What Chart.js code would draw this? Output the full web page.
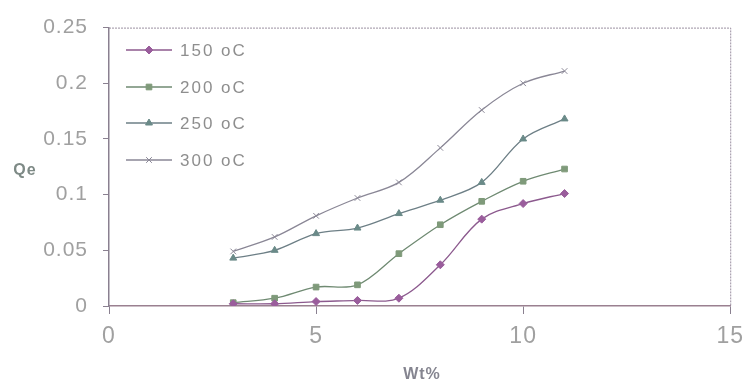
<!DOCTYPE html>
<html>
<head>
<meta charset="utf-8">
<script src="https://cdn.jsdelivr.net/npm/chart.js@4.4.0/dist/chart.umd.min.js"></script>
<style>
    html, body { margin: 0; padding: 0; background: #fff; }
    #wrap { position: relative; width: 752px; height: 387px; }
</style>
</head>
<body>
<div id="wrap"><canvas id="qeChart" width="752" height="387"></canvas></div>
<script>
// Qe vs Wt% at four temperatures
const wt = [3, 4, 5, 6, 7, 8, 9, 10, 11];
const seriesNames = ['150 oC', '200 oC', '250 oC', '300 oC'];
const qe150 = [0.002, 0.002, 0.004, 0.005, 0.007, 0.037, 0.078, 0.092, 0.101];
const qe200 = [0.003, 0.007, 0.017, 0.019, 0.047, 0.073, 0.094, 0.112, 0.123];
const qe250 = [0.043, 0.050, 0.065, 0.070, 0.083, 0.095, 0.111, 0.150, 0.168];
const qe300 = [0.049, 0.062, 0.081, 0.097, 0.111, 0.142, 0.176, 0.200, 0.211];
const xTicks = [0, 5, 10, 15];
const yTicks = [0, 0.05, 0.1, 0.15, 0.2, 0.25];

const FONT = '"Liberation Sans", Arial, sans-serif';
const lineColors = ['#8c5a8e', '#6f8a72', '#6d7f86', '#8a8796'];
const markerFill = ['#9a5d9c', '#7f9a7a', '#6a8a88', '#8a8796'];
const markers = ['rectRot', 'rect', 'triangle', 'crossRot'];
const allSeries = [qe150, qe200, qe250, qe300];

const datasets = allSeries.map((vals, i) => ({
    label: seriesNames[i],
    data: wt.map((x, j) => ({ x, y: vals[j] })),
    showLine: true,
    borderColor: lineColors[i],
    borderWidth: 1.3,
    tension: 0.35,
    pointStyle: markers[i],
    pointRadius: 4,
    pointBackgroundColor: markerFill[i],
    pointBorderColor: markerFill[i],
    pointBorderWidth: 1
}));

// a little letter spacing for tick text, plus axis titles and inside legend
const textExtras = {
    id: 'textExtras',
    beforeDraw(chart) {
        chart.ctx.letterSpacing = '1px';
    },
    afterDraw(chart) {
        const ctx = chart.ctx;
        const rows = [50, 87, 123, 160];
        ctx.save();
        chart.data.datasets.forEach((ds, i) => {
            const y = rows[i];
            ctx.strokeStyle = ds.borderColor;
            ctx.lineWidth = 1.3;
            ctx.beginPath();
            ctx.moveTo(126, y);
            ctx.lineTo(172, y);
            ctx.stroke();
            ctx.fillStyle = ds.pointBackgroundColor;
            ctx.strokeStyle = ds.pointBorderColor;
            ctx.lineWidth = 1;
            Chart.helpers.drawPoint(ctx, { pointStyle: ds.pointStyle, radius: 4, borderWidth: 1 }, 149, y);
            ctx.fillStyle = '#8e8e8e';
            ctx.letterSpacing = '2px';
            ctx.font = '17px ' + FONT;
            ctx.textAlign = 'left';
            ctx.textBaseline = 'middle';
            ctx.fillText(ds.label, 180, y + 1);
        });

        // axis titles
        ctx.letterSpacing = '1px';
        ctx.font = 'bold 16px ' + FONT;
        ctx.fillStyle = '#7e8a86';
        ctx.textAlign = 'center';
        ctx.textBaseline = 'middle';
        ctx.fillText('Qe', 25, 171);
        ctx.fillStyle = '#858590';
        ctx.fillText('Wt%', 422, 375);
        ctx.restore();
        ctx.letterSpacing = '0px';
    }
};

// frame: dotted top and right edges
const frame = {
    id: 'frame',
    beforeDatasetsDraw(chart) {
        const { left, right, top, bottom } = chart.chartArea;
        const ctx = chart.ctx;
        ctx.save();
        ctx.strokeStyle = '#9a8fa0';
        ctx.lineWidth = 1;
        ctx.setLineDash([2, 1]);
        ctx.beginPath();
        ctx.moveTo(left, top + 0.5);
        ctx.lineTo(right + 0.5, top + 0.5);
        ctx.lineTo(right + 0.5, bottom);
        ctx.stroke();
        ctx.restore();
    }
};

new Chart(document.getElementById('qeChart'), {
    type: 'scatter',
    data: { datasets },
    plugins: [frame, textExtras],
    options: {
        responsive: false,
        animation: false,
        layout: { padding: { top: 21, right: 14, left: 0, bottom: 0 } },
        plugins: {
            legend: { display: false },
            tooltip: { enabled: false }
        },
        scales: {
            x: {
                type: 'linear',
                min: 0,
                max: 15,
                afterBuildTicks: axis => { axis.ticks = xTicks.map(v => ({ value: v })); },
                afterFit: axis => { axis.height = 81; },
                grid: {
                    display: true,
                    drawOnChartArea: false,
                    drawTicks: true,
                    tickLength: 8,
                    color: '#8a8090'
                },
                border: { color: '#9a8090', width: 1.5 },
                ticks: {
                    color: '#a0a0a0',
                    font: { size: 23, family: FONT },
                    padding: 9
                }
            },
            y: {
                type: 'linear',
                min: 0,
                max: 0.25,
                afterBuildTicks: axis => { axis.ticks = yTicks.map(v => ({ value: v })); },
                afterFit: axis => { axis.width = 109; },
                grid: {
                    display: true,
                    drawOnChartArea: false,
                    drawTicks: true,
                    tickLength: 6,
                    color: '#8a8090'
                },
                border: { color: '#8a8090', width: 1.5 },
                ticks: {
                    color: '#a0a0a0',
                    font: { size: 21, family: FONT },
                    padding: 15,
                    callback: v => String(v)
                }
            }
        }
    }
});
</script>
</body>
</html>
